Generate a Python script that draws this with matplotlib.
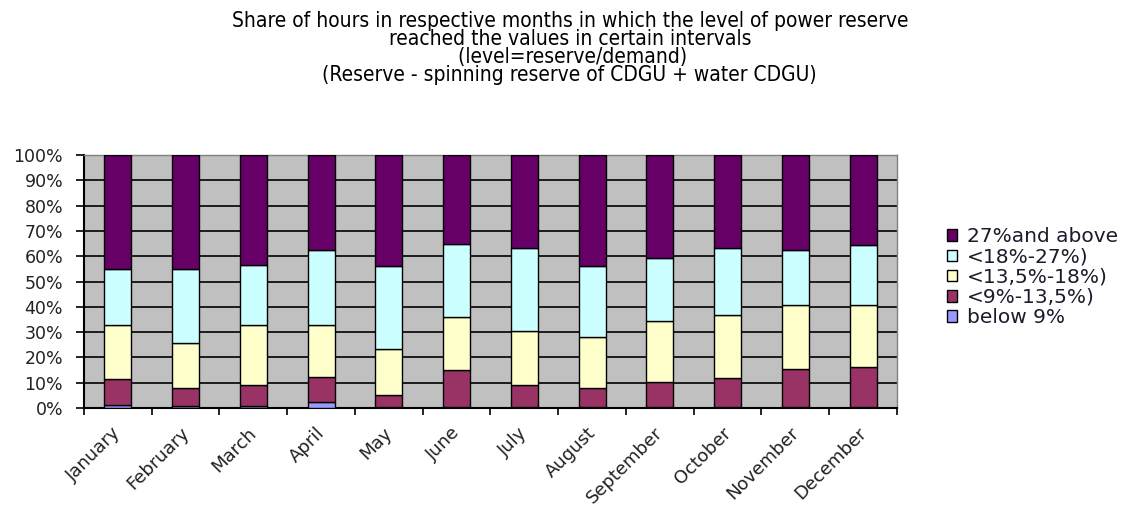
import numpy as np
import matplotlib
matplotlib.use("Agg")
import matplotlib.pyplot as plt
import matplotlib.transforms as mtransforms

months = ["January", "February", "March", "April", "May", "June", "July",
          "August", "September", "October", "November", "December"]

# cumulative tops (%), then turned into segment shares
top_below9 = [1.3, 0.7, 0.6, 2.4, 0.2, 0.5, 0.5, 0.3, 0.5, 0.5, 0.5, 0.5]
top_9_135 = [11.6, 7.8, 9.2, 12.4, 5.2, 14.9, 9.2, 7.8, 10.1, 11.7, 15.5, 16.3]
top_135_18 = [32.7, 25.7, 32.7, 32.7, 23.3, 36.0, 30.4, 27.9, 34.3, 36.8, 40.6, 40.6]
top_18_27 = [55.1, 55.1, 56.7, 62.3, 56.0, 64.7, 63.1, 56.0, 59.2, 63.1, 62.3, 64.4]

below9 = np.array(top_below9)
s9_135 = np.array(top_9_135) - below9
s135_18 = np.array(top_135_18) - np.array(top_9_135)
s18_27 = np.array(top_18_27) - np.array(top_135_18)
s27_up = 100 - np.array(top_18_27)

series = [
    ("below 9%", below9, "#9999FF"),
    ("<9%-13,5%)", s9_135, "#993366"),
    ("<13,5%-18%)", s135_18, "#FFFFCC"),
    ("<18%-27%)", s18_27, "#CCFFFF"),
    ("27%and above", s27_up, "#660066"),
]

fig = plt.figure(figsize=(11.26, 5.16), dpi=100)
ax = fig.add_axes([0.0746, 0.2093, 0.722, 0.4903])
ax.set_facecolor("#C0C0C0")

x = np.arange(len(months))
bottom = np.zeros(len(months))
handles = []
for label, vals, color in series:
    h = ax.bar(x, vals, bottom=bottom, width=0.4, color=color,
               edgecolor="black", linewidth=1.0, label=label, zorder=3)
    handles.append(h)
    bottom = bottom + vals

ax.set_xlim(-0.5, len(months) - 0.5)
ax.set_ylim(0, 100)
ax.set_yticks(np.arange(0, 101, 10))
ax.set_yticklabels([f"{v}%" for v in range(0, 101, 10)], fontsize=12.5, color="#222222")
ax.yaxis.grid(True, color="black", linewidth=1.2, zorder=1)
ax.set_axisbelow(True)

# month labels drawn as rotated text, anchored at their top-right end
ax.set_xticks(x)
ax.set_xticklabels([])
shift = mtransforms.ScaledTranslation(-6 / 100, -16 / 100, fig.dpi_scale_trans)
for xi, m in zip(x, months):
    ax.text(xi, 0, m, transform=ax.get_xaxis_transform() + shift,
            rotation=45, ha="right", va="top", rotation_mode="anchor",
            fontsize=13, color="#222222")
ax.set_xticks(np.arange(-0.5, len(months)), minor=True)
ax.tick_params(axis="x", which="major", length=0)
ax.tick_params(axis="x", which="minor", length=5, width=1.2, direction="out")
ax.tick_params(axis="y", length=6, width=1.2, direction="out", pad=9)

for side in ["left", "bottom"]:
    ax.spines[side].set_linewidth(1.5)
    ax.spines[side].set_color("black")
for side in ["top", "right"]:
    ax.spines[side].set_color("#808080")
    ax.spines[side].set_linewidth(1.0)

leg = fig.legend(handles[::-1], [s[0] for s in series][::-1],
                 loc="upper left", bbox_to_anchor=(0.834, 0.575),
                 frameon=False, fontsize=14.5, handlelength=0.5, handleheight=0.5,
                 handletextpad=0.5, labelspacing=0.06, borderaxespad=0)
for t in leg.get_texts():
    t.set_color("#1c1a2c")

title = ("Share of hours in respective months in which the level of power reserve\n"
         "reached the values in certain intervals\n"
         " (level=reserve/demand)\n"
         "(Reserve - spinning reserve of CDGU + water CDGU)")
fig.text(0.506, 0.978, title, ha="center", va="top", fontsize=15,
         family="DejaVu Sans", fontstretch="condensed", linespacing=0.86)

fig.savefig("out.png", dpi=100)
